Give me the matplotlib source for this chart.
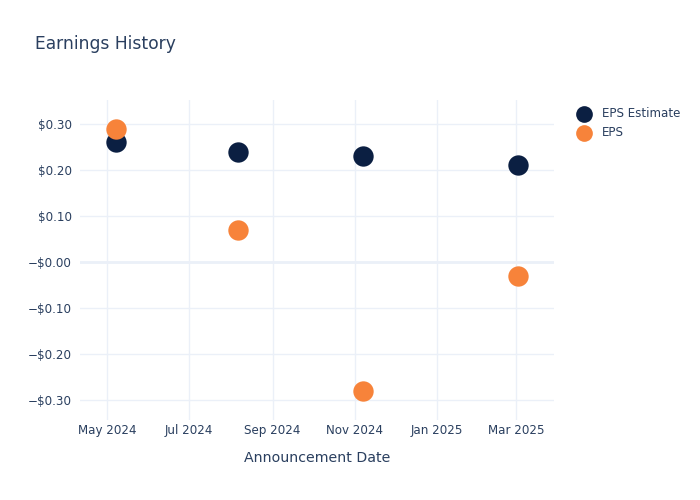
import matplotlib
matplotlib.use("Agg")
import matplotlib.pyplot as plt
import numpy as np
import pandas as pd

dates = pd.to_datetime(["2024-05-08", "2024-08-06", "2024-11-07", "2025-03-02"])
eps_estimate = [0.26, 0.24, 0.23, 0.21]
eps_actual = [0.29, 0.07, -0.28, -0.03]

y_ticks = [-0.30, -0.20, -0.10, 0.0, 0.10, 0.20, 0.30]
y_labels = ["\u2212$0.30", "\u2212$0.20", "\u2212$0.10", "\u2212$0.00", "$0.10", "$0.20", "$0.30"]
x_ticks = pd.to_datetime(["2024-05-01", "2024-07-01", "2024-09-01", "2024-11-01", "2025-01-01", "2025-03-01"])
x_labels = ["May 2024", "Jul 2024", "Sep 2024", "Nov 2024", "Jan 2025", "Mar 2025"]

text_col = "#2a3f5f"
grid_col = "#EBF0F8"
navy = "#0b1f42"
orange = "#f7833a"

plt.rcParams["font.family"] = ["DejaVu Sans"]

def main():
	fig = plt.figure(figsize=(7, 5), dpi=100)
	ax = fig.add_axes([80 / 700, 80 / 500, 474 / 700, 320 / 500])

	ax.scatter(dates, eps_estimate, s=215, color=navy, label="EPS Estimate", zorder=3, linewidths=0)
	ax.scatter(dates, eps_actual, s=215, color=orange, label="EPS", zorder=4, linewidths=0)

	ax.set_xlim(pd.Timestamp("2024-04-11"), pd.Timestamp("2025-03-29"))
	ax.set_ylim(-0.343, 0.352)

	ax.set_yticks(y_ticks)
	ax.set_yticklabels(y_labels)
	ax.set_xticks(x_ticks)
	ax.set_xticklabels(x_labels)

	ax.grid(True, color=grid_col, linewidth=1, zorder=0)
	ax.axhline(0, color=grid_col, linewidth=2, zorder=1)
	ax.set_axisbelow(True)
	for s in ax.spines.values():
		s.set_visible(False)
	ax.tick_params(axis="both", length=0, labelsize=8.6, colors=text_col)
	ax.tick_params(axis="y", pad=6)
	ax.tick_params(axis="x", pad=3)

	ax.set_xlabel("Announcement Date", fontsize=10.2, color=text_col, labelpad=10)
	fig.text(35 / 700, 1 - 44 / 500, "Earnings History", fontsize=12.3, color=text_col, va="center", ha="left")

	leg = ax.legend(loc="upper left", bbox_to_anchor=(1.02, 1.003), frameon=False, fontsize=8.6,
		handletextpad=0.55, labelspacing=0.45, borderaxespad=0.3, markerscale=0.82)
	for t in leg.get_texts():
		t.set_color(text_col)

	fig.savefig("out.png", dpi=100, facecolor="white")

if __name__ == "__main__":
	main()
